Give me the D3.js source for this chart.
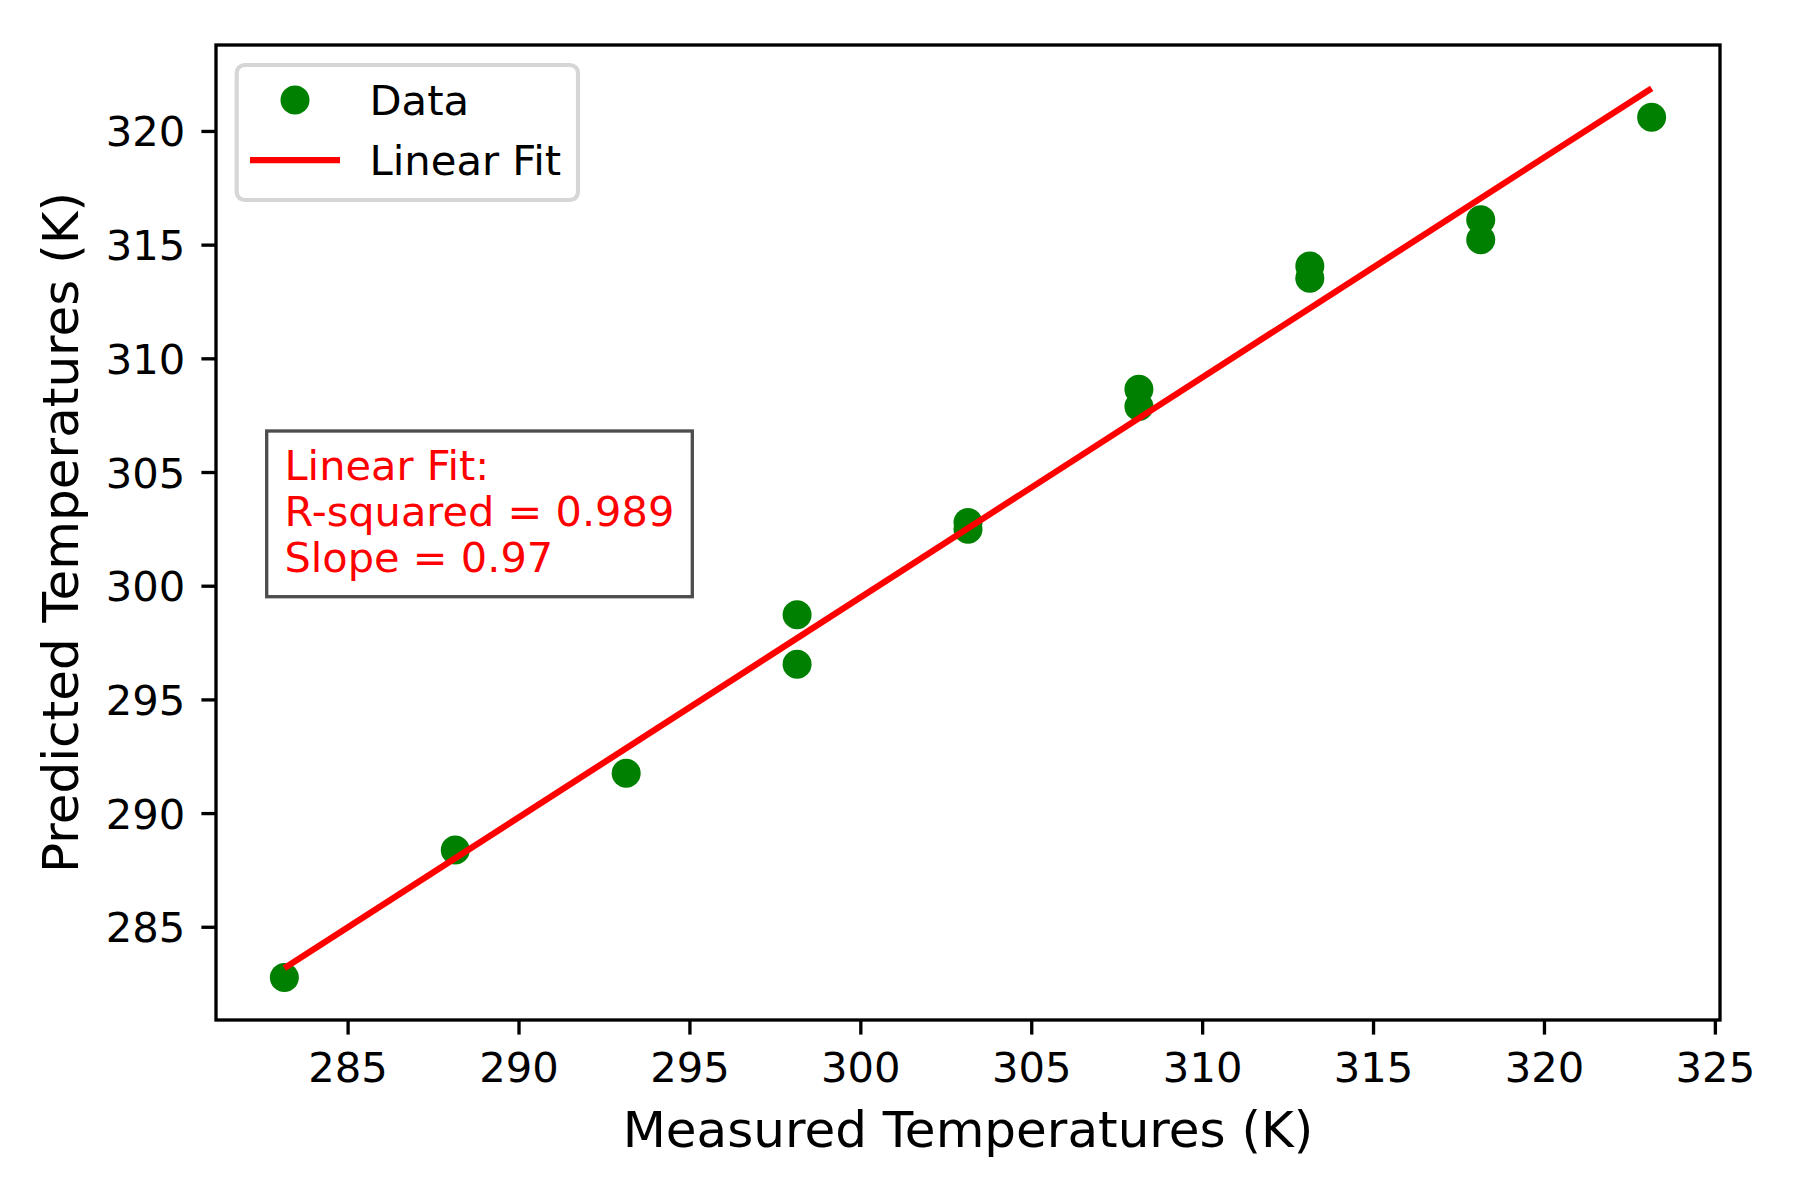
<!DOCTYPE html>
<html>
<head>
<meta charset="utf-8">
<script src="https://cdn.jsdelivr.net/npm/d3@7"></script>
<style>
  body { margin: 0; background: #fff; }
  text { font-family: "DejaVu Sans", sans-serif; }
</style>
</head>
<body>
<div id="chart"></div>
<script>
// measured vs predicted temperatures (K)
const measured = [283.15, 288.15, 293.15, 298.15, 298.15, 303.15, 303.15,
                  308.15, 308.15, 313.15, 313.15, 318.15, 318.15, 323.15]
const predicted = [282.77, 288.38, 291.75, 298.72, 296.55, 302.78, 302.48,
                   308.64, 307.88, 314.06, 313.52, 316.09, 315.21, 320.60]

// fit line as drawn
const fitSlope = 0.9675
const fitIntercept = 9.23

const xTicks = [285, 290, 295, 300, 305, 310, 315, 320, 325]
const yTicks = [285, 290, 295, 300, 305, 310, 315, 320]
const statLines = ["Linear Fit:", "R-squared = 0.989", "Slope = 0.97"]

const width = 1800
const height = 1200
const margin = { top: 45, right: 80, bottom: 180, left: 216 }
const lw = 3.33
const tick = 14.6

const svg = d3.select("#chart")
    .append("svg")
    .attr("width", width)
    .attr("height", height)

svg.append("rect").attr("width", width).attr("height", height).attr("fill", "#fff")

const x = d3.scaleLinear()
    .domain([281.15, 325.15])
    .range([margin.left, width - margin.right])

const y = d3.scaleLinear()
    .domain([280.9, 323.78])
    .range([height - margin.bottom, margin.top])

const points = measured.map((m, i) => ({ m: m, p: predicted[i] }))

// scatter
svg.append("g")
    .attr("fill", "green")
    .selectAll("circle")
    .data(points)
    .join("circle")
    .attr("cx", d => x(d.m))
    .attr("cy", d => y(d.p))
    .attr("r", 14.5)

// fit line
const xMin = d3.min(measured), xMax = d3.max(measured)
svg.append("line")
    .attr("x1", x(xMin)).attr("y1", y(fitSlope * xMin + fitIntercept))
    .attr("x2", x(xMax)).attr("y2", y(fitSlope * xMax + fitIntercept))
    .attr("stroke", "red")
    .attr("stroke-width", 6.25)

// axes
const xAxis = svg.append("g")
    .attr("transform", `translate(0,${height - margin.bottom})`)
    .call(d3.axisBottom(x).tickValues(xTicks).tickSize(tick).tickSizeOuter(0).tickPadding(18))
const yAxis = svg.append("g")
    .attr("transform", `translate(${margin.left},0)`)
    .call(d3.axisLeft(y).tickValues(yTicks).tickSize(tick).tickSizeOuter(0).tickPadding(16))

;[xAxis, yAxis].forEach(g => {
    g.select(".domain").remove()
    g.selectAll("line").attr("stroke", "#000").attr("stroke-width", lw)
    g.selectAll("text")
        .attr("fill", "#000")
        .style("font-size", "41.7px")
        .style("font-family", "DejaVu Sans, sans-serif")
})
yAxis.selectAll("text").attr("dy", "0.36em")

// frame
svg.append("rect")
    .attr("x", margin.left)
    .attr("y", margin.top)
    .attr("width", width - margin.left - margin.right)
    .attr("height", height - margin.top - margin.bottom)
    .attr("fill", "none")
    .attr("stroke", "#000")
    .attr("stroke-width", lw)

// axis labels
svg.append("text")
    .attr("x", (margin.left + width - margin.right) / 2)
    .attr("y", 1146.7)
    .attr("text-anchor", "middle")
    .style("font-size", "50px")
    .text("Measured Temperatures (K)")

svg.append("text")
    .attr("transform", `translate(78,${(margin.top + height - margin.bottom) / 2}) rotate(-90)`)
    .attr("text-anchor", "middle")
    .style("font-size", "50px")
    .text("Predicted Temperatures (K)")

// legend
const legend = svg.append("g")
legend.append("rect")
    .attr("x", 236.7).attr("y", 65)
    .attr("width", 341.3).attr("height", 135)
    .attr("rx", 8).attr("ry", 8)
    .attr("fill", "#fff")
    .attr("stroke", "#d6d6d6")
    .attr("stroke-width", 4.17)
legend.append("circle").attr("cx", 295).attr("cy", 100).attr("r", 14.5).attr("fill", "green")
legend.append("line")
    .attr("x1", 250).attr("x2", 340).attr("y1", 160).attr("y2", 160)
    .attr("stroke", "red").attr("stroke-width", 6.25)
legend.append("text").attr("x", 369.5).attr("y", 115).style("font-size", "41.7px").text("Data")
legend.append("text").attr("x", 369.5).attr("y", 175).style("font-size", "41.7px").text("Linear Fit")

// stats box
const stats = svg.append("g")
stats.append("rect")
    .attr("x", 266.7).attr("y", 431)
    .attr("width", 425.6).attr("height", 165.7)
    .attr("fill", "#fff")
    .attr("stroke", "#4d4d4d")
    .attr("stroke-width", lw)
stats.selectAll("text")
    .data(statLines)
    .join("text")
    .attr("x", 284.5)
    .attr("y", (d, i) => 480 + i * 45.9)
    .attr("fill", "red")
    .style("font-size", "41.5px")
    .text(d => d)
</script>
</body>
</html>
